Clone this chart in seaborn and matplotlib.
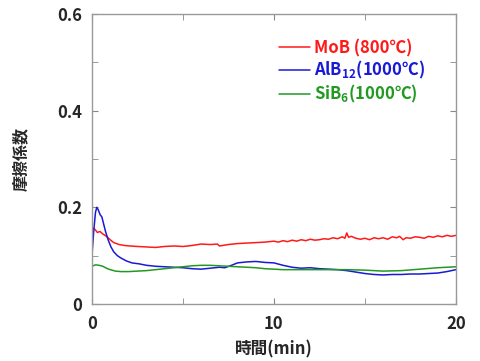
import numpy as np
import pandas as pd
import matplotlib
matplotlib.use("Agg")
import matplotlib.pyplot as plt
import seaborn as sns

# ── data (time in min, friction coefficient) ─────────────────────────────────
t_mob = [0, 0.1, 0.2, 0.3, 0.45, 0.6, 0.8, 1.0, 1.2, 1.5, 1.8, 2.1, 2.5, 3.0,
         3.5, 4.0, 4.5, 5.0, 5.5, 6.0, 6.5, 6.9, 7.0, 7.5, 8.0, 8.5, 9.0, 9.5,
         10.0, 10.25, 10.5, 10.75, 11.0, 11.25, 11.5, 11.75, 12.0, 12.25, 12.5,
         12.75, 13.0, 13.25, 13.5, 13.75, 13.9, 14.0, 14.1, 14.25, 14.5, 14.75,
         15.0, 15.25, 15.5, 15.75, 16.0, 16.25, 16.5, 16.75, 16.9, 17.1, 17.25,
         17.5, 17.75, 18.0, 18.25, 18.5, 18.75, 19.0, 19.25, 19.5, 19.75, 20.0]
mu_mob = [0.150, 0.157, 0.153, 0.148, 0.150, 0.145, 0.140, 0.133, 0.127, 0.123,
          0.121, 0.120, 0.119, 0.118, 0.117, 0.119, 0.120, 0.119, 0.121, 0.124,
          0.123, 0.124, 0.120, 0.123, 0.125, 0.126, 0.127, 0.128, 0.130, 0.128,
          0.131, 0.129, 0.132, 0.130, 0.133, 0.131, 0.134, 0.132, 0.133, 0.135,
          0.134, 0.137, 0.135, 0.139, 0.136, 0.147, 0.138, 0.140, 0.136, 0.134,
          0.136, 0.133, 0.137, 0.135, 0.137, 0.134, 0.139, 0.137, 0.140, 0.133,
          0.137, 0.136, 0.139, 0.138, 0.136, 0.140, 0.138, 0.141, 0.139, 0.142,
          0.140, 0.142]

t_alb = [0, 0.1, 0.2, 0.27, 0.35, 0.45, 0.55, 0.65, 0.75, 0.9, 1.05, 1.2, 1.4,
         1.6, 1.9, 2.2, 2.6, 3.0, 3.5, 4.0, 4.5, 5.0, 5.5, 6.0, 6.5, 7.0, 7.3,
         7.6, 8.0, 8.5, 9.0, 9.5, 10.0, 10.5, 11.0, 11.5, 12.0, 12.5, 13.0,
         13.5, 14.0, 14.5, 15.0, 15.5, 16.0, 16.5, 17.0, 17.5, 18.0, 18.5, 19.0,
         19.5, 20.0]
mu_alb = [0.098, 0.150, 0.190, 0.200, 0.195, 0.185, 0.180, 0.165, 0.150, 0.132,
          0.118, 0.108, 0.100, 0.095, 0.089, 0.085, 0.083, 0.080, 0.078, 0.077,
          0.076, 0.075, 0.073, 0.072, 0.074, 0.076, 0.075, 0.079, 0.085, 0.087,
          0.088, 0.086, 0.085, 0.080, 0.076, 0.074, 0.075, 0.073, 0.072, 0.071,
          0.069, 0.066, 0.063, 0.061, 0.060, 0.061, 0.061, 0.062, 0.062, 0.063,
          0.064, 0.067, 0.071]

t_sib = [0, 0.2, 0.4, 0.6, 0.8, 1.0, 1.3, 1.6, 2.0, 2.5, 3.0, 3.5, 4.0, 4.5,
         5.0, 5.5, 6.0, 6.5, 7.0, 7.5, 8.0, 8.5, 9.0, 9.5, 10.0, 10.5, 11.0,
         12.0, 13.0, 14.0, 15.0, 16.0, 17.0, 18.0, 19.0, 20.0]
mu_sib = [0.078, 0.081, 0.080, 0.078, 0.074, 0.071, 0.068, 0.067, 0.067, 0.068,
          0.069, 0.071, 0.073, 0.075, 0.077, 0.079, 0.080, 0.080, 0.079, 0.078,
          0.077, 0.076, 0.075, 0.073, 0.072, 0.071, 0.071, 0.071, 0.071, 0.071,
          0.070, 0.068, 0.069, 0.072, 0.075, 0.077]

SERIES = ["MoB (800℃)", "AlB$_{12}$(1000℃)", "SiB$_6$(1000℃)"]
COLORS = ["#ff1a1a", "#1a1ad6", "#229a22"]

df = pd.concat([
    pd.DataFrame({"time": t_mob, "mu": mu_mob, "series": SERIES[0]}),
    pd.DataFrame({"time": t_alb, "mu": mu_alb, "series": SERIES[1]}),
    pd.DataFrame({"time": t_sib, "mu": mu_sib, "series": SERIES[2]}),
])

sns.set_style("ticks")
plt.rcParams["font.family"] = ["Noto Sans CJK JP", "DejaVu Sans"]
plt.rcParams["font.weight"] = "bold"
plt.rcParams["axes.labelweight"] = "bold"
plt.rcParams["mathtext.fontset"] = "custom"
plt.rcParams["mathtext.rm"] = "Noto Sans CJK JP:bold"
plt.rcParams["mathtext.it"] = "Noto Sans CJK JP:bold"
plt.rcParams["mathtext.default"] = "rm"

fig = plt.figure(figsize=(4.81, 3.61), dpi=100)
ax = fig.add_axes([0.191, 0.158, 0.757, 0.803])

sns.lineplot(data=df, x="time", y="mu", hue="series", palette=COLORS,
             sort=False, lw=1.1, ax=ax, legend=False)

ax.set_xlim(0, 20)
ax.set_ylim(0, 0.6)
ax.set_xticks([0, 10, 20])
ax.set_xticklabels(["0", "10", "20"])
ax.set_xticks([5, 15], minor=True)
ax.set_yticks([0, 0.2, 0.4, 0.6])
ax.set_yticklabels(["0", "0.2", "0.4", "0.6"])
ax.set_yticks([0.1, 0.3, 0.5], minor=True)
ax.tick_params(which="both", direction="in", top=True, right=True,
               color="#888888", labelsize=12)
ax.tick_params(which="both", length=4)
ax.tick_params(axis="y", pad=7)
ax.tick_params(axis="x", pad=8)
for sp in ax.spines.values():
    sp.set_color("#999999")
    sp.set_linewidth(1.0)

ax.set_xlabel("時間(min)", fontsize=12, fontweight="bold", labelpad=5)
ax.set_ylabel("摩擦係数", fontsize=11.5, fontweight="bold", labelpad=20)

handles = ax.get_lines()[:3]
leg = ax.legend(handles, SERIES, loc="upper right", frameon=False,
                bbox_to_anchor=(0.955, 0.965), fontsize=12,
                handlelength=1.9, handletextpad=0.2, labelspacing=0.12)
for txt, c in zip(leg.get_texts(), COLORS):
    txt.set_color(c)

fig.savefig("out.png", dpi=100)
